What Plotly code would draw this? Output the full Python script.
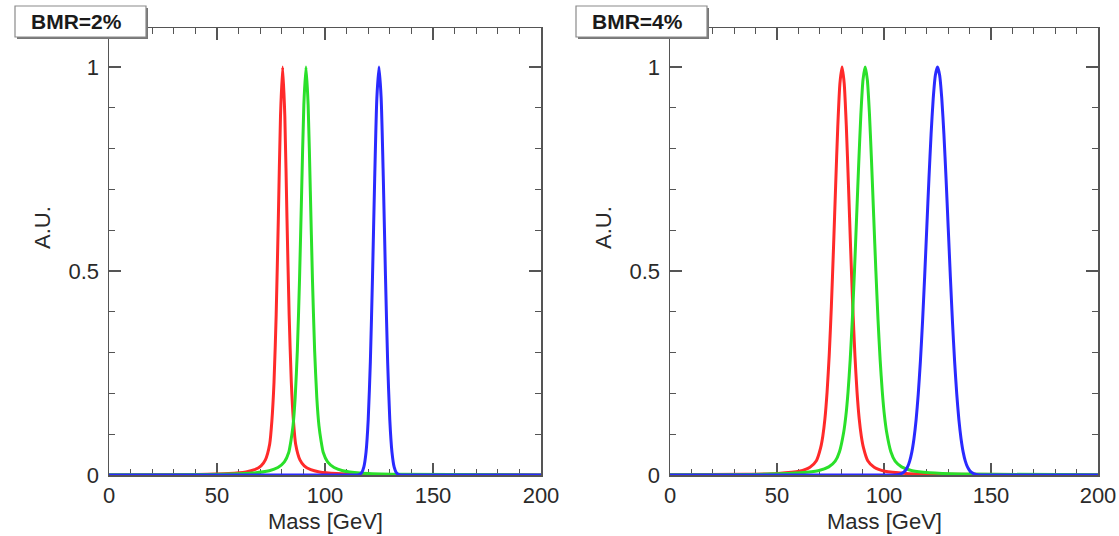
import plotly.graph_objects as go

# ---------------- data ----------------
panel_titles = ["BMR=2%", "BMR=4%"]
x_tick_vals = [0, 50, 100, 150, 200]
x_tick_text = ["0", "50", "100", "150", "200"]
y_tick_vals = [0, 0.5, 1]
y_tick_text = ["0", "0.5", "1"]
x_title = "Mass [GeV]"
y_title = "A.U."

# BMR = 2 %
red_2_mass = [0, 40.4, 55.4, 63.4, 67.4, 70.4, 72.4, 74.4, 75.4, 76.4, 77.4, 78.4, 79.4, 80.4,
              81.4, 82.4, 83.4, 84.4, 85.4, 86.4, 88.4, 90.4, 93.4, 97.4, 105.4, 120.4, 200]
red_2_au = [0.0003, 0.0013, 0.0034, 0.0074, 0.0129, 0.0225, 0.037, 0.076, 0.132, 0.228, 0.393, 0.629, 0.880, 1.0,
            0.880, 0.629, 0.393, 0.228, 0.132, 0.076, 0.037, 0.0225, 0.0129, 0.0074, 0.0034, 0.0013, 0.0002]

green_2_mass = [0, 51.2, 66.2, 74.2, 78.2, 81.2, 83.2, 84.2, 85.2, 86.2, 87.2, 88.2, 89.2, 90.2, 91.2,
                92.2, 93.2, 94.2, 95.2, 96.2, 97.2, 98.2, 99.2, 101.2, 104.2, 108.2, 116.2, 131.2, 200]
green_2_au = [0.0004, 0.0018, 0.0047, 0.0104, 0.0182, 0.032, 0.055, 0.083, 0.121, 0.190, 0.305, 0.478, 0.697, 0.906, 1.0,
              0.906, 0.697, 0.478, 0.305, 0.190, 0.121, 0.083, 0.055, 0.032, 0.0182, 0.0104, 0.0047, 0.0018, 0.0003]

blue_2_mass = [0, 110, 115, 116, 117, 118, 119, 120, 121, 122, 123, 124, 125,
               126, 127, 128, 129, 130, 131, 132, 133, 134, 135, 140, 200]
blue_2_au = [0, 0, 0.0003, 0.0015, 0.006, 0.0198, 0.056, 0.135, 0.278, 0.487, 0.726, 0.923, 1.0,
             0.923, 0.726, 0.487, 0.278, 0.135, 0.056, 0.0198, 0.006, 0.0015, 0.0003, 0, 0]

# BMR = 4 %
red_4_mass = [0, 35.4, 50.4, 60.4, 65.4, 68.4, 70.4, 71.4, 72.4, 73.4, 74.4, 75.4, 76.4, 77.4, 78.4, 79.4, 80.4,
              81.4, 82.4, 83.4, 84.4, 85.4, 86.4, 87.4, 88.4, 89.4, 90.4, 92.4, 95.4, 100.4, 110.4, 125.4, 200]
red_4_au = [0.0005, 0.0017, 0.0039, 0.0092, 0.019, 0.035, 0.067, 0.095, 0.138, 0.203, 0.294, 0.413, 0.556, 0.709, 0.854, 0.960, 1.0,
            0.960, 0.854, 0.709, 0.556, 0.413, 0.294, 0.203, 0.138, 0.095, 0.067, 0.035, 0.019, 0.0092, 0.0039, 0.0017, 0.0003]

green_4_mass = [0, 46.2, 61.2, 69.2, 74.2, 77.2, 79.2, 81.2, 82.2, 83.2, 84.2, 85.2, 86.2, 87.2, 88.2, 89.2, 90.2, 91.2,
                92.2, 93.2, 94.2, 95.2, 96.2, 97.2, 98.2, 99.2, 100.2, 101.2, 103.2, 105.2, 108.2, 113.2, 121.2, 136.2, 200]
green_4_au = [0.0006, 0.0023, 0.0054, 0.0105, 0.020, 0.034, 0.057, 0.106, 0.146, 0.204, 0.282, 0.381, 0.5, 0.632, 0.765, 0.885, 0.969, 1.0,
              0.969, 0.885, 0.765, 0.632, 0.5, 0.381, 0.282, 0.204, 0.146, 0.106, 0.057, 0.034, 0.020, 0.0105, 0.0054, 0.0023, 0.0004]

blue_4_mass = [0, 100, 105, 107, 109, 110, 111, 112, 113, 114, 115, 116, 117, 118, 119, 120, 121, 122, 123, 124, 125,
               126, 127, 128, 129, 130, 131, 132, 133, 134, 135, 136, 137, 138, 139, 140, 141, 143, 145, 150, 200]
blue_4_au = [0, 0, 0.0003, 0.0015, 0.006, 0.011, 0.0198, 0.034, 0.056, 0.089, 0.135, 0.198, 0.278, 0.375, 0.487, 0.607, 0.726, 0.835, 0.923, 0.980, 1.0,
             0.980, 0.923, 0.835, 0.726, 0.607, 0.487, 0.375, 0.278, 0.198, 0.135, 0.089, 0.056, 0.034, 0.0198, 0.011, 0.006, 0.0015, 0.0003, 0, 0]

# ---------------- figure ----------------
W, H = 1119, 536
AX = "#555555"
FONT = "Liberation Sans, Arial, Helvetica, sans-serif"
RED, GREEN, BLUE = "#ff2a2a", "#2ae02a", "#2a2aff"


def px(x):
    return x / W


def py(y):
    return (H - y) / H


fig = go.Figure()

panels = [
    ("x", "y", [(red_2_mass, red_2_au, RED), (green_2_mass, green_2_au, GREEN), (blue_2_mass, blue_2_au, BLUE)]),
    ("x2", "y2", [(red_4_mass, red_4_au, RED), (green_4_mass, green_4_au, GREEN), (blue_4_mass, blue_4_au, BLUE)]),
]
for xa, ya, curves in panels:
    for xs, ys, col in curves:
        fig.add_trace(go.Scatter(x=xs, y=ys, mode="lines", xaxis=xa, yaxis=ya,
                                 line=dict(color=col, width=3, shape="spline", smoothing=0.6),
                                 showlegend=False, hoverinfo="skip"))

tickfont = dict(family=FONT, size=22, color="#2a2a2a")


def xaxis(domain, anchor):
    return dict(domain=domain, anchor=anchor, range=[0, 200], tickmode="array",
                tickvals=x_tick_vals, ticktext=x_tick_text,
                ticks="inside", ticklen=12, tickwidth=1.2, tickcolor=AX,
                minor=dict(dtick=10, tick0=0, ticks="inside", ticklen=6, tickwidth=1.2, tickcolor=AX, showgrid=False),
                showline=True, linecolor=AX, linewidth=1.5, mirror="ticks", automargin=False,
                showgrid=False, zeroline=False, tickfont=tickfont, layer="below traces", fixedrange=True)


def yaxis(anchor):
    return dict(domain=[py(475), py(28)], anchor=anchor, range=[0, 1.0956], tickmode="array",
                tickvals=y_tick_vals, ticktext=y_tick_text, ticklabelstandoff=4,
                ticks="inside", ticklen=12, tickwidth=1.2, tickcolor=AX,
                minor=dict(dtick=0.1, tick0=0, ticks="inside", ticklen=6, tickwidth=1.2, tickcolor=AX, showgrid=False),
                showline=True, linecolor=AX, linewidth=1.5, mirror="ticks", automargin=False,
                showgrid=False, zeroline=False, tickfont=tickfont, layer="below traces", fixedrange=True)


shapes = []
annotations = []
for i, (bx0, bx1, plot_x0, plot_x1, ylab_x) in enumerate([(15, 146, 109, 541, 42), (576, 707, 670, 1098, 603)]):
    # shadowed title box
    shapes.append(dict(type="rect", xref="paper", yref="paper", x0=px(bx0 + 2), x1=px(bx1 + 2),
                       y0=py(39), y1=py(8), fillcolor="#777777", line=dict(width=0), layer="above"))
    shapes.append(dict(type="rect", xref="paper", yref="paper", x0=px(bx0), x1=px(bx1),
                       y0=py(37), y1=py(6), fillcolor="white", line=dict(color="#8a8a8a", width=1.2), layer="above"))
    annotations.append(dict(text="<b>%s</b>" % panel_titles[i], xref="paper", yref="paper",
                            x=px(bx0 + 14), y=py(22), xanchor="left", yanchor="middle", showarrow=False,
                            font=dict(family=FONT, size=21, color="#1a1a1a")))
    annotations.append(dict(text=x_title, xref="paper", yref="paper", x=px((plot_x0 + plot_x1) / 2), y=py(521),
                            xanchor="center", yanchor="middle", showarrow=False,
                            font=dict(family=FONT, size=22, color="#2a2a2a")))
    annotations.append(dict(text=y_title, xref="paper", yref="paper", x=px(ylab_x), y=py(228), textangle=-90,
                            xanchor="center", yanchor="middle", showarrow=False,
                            font=dict(family=FONT, size=22, color="#2a2a2a")))

fig.update_layout(
    width=W, height=H, margin=dict(l=0, r=0, t=0, b=0, pad=0, autoexpand=False),
    paper_bgcolor="white", plot_bgcolor="white",
    xaxis=xaxis([px(109), px(541)], "y"),
    yaxis=yaxis("x"),
    xaxis2=xaxis([px(670), px(1098)], "y2"),
    yaxis2=yaxis("x2"),
    shapes=shapes, annotations=annotations, showlegend=False,
)

fig.write_html("out.html", config={"displayModeBar": False, "staticPlot": True},
               post_script="document.body.style.margin='0px';document.body.style.overflow='hidden';")
